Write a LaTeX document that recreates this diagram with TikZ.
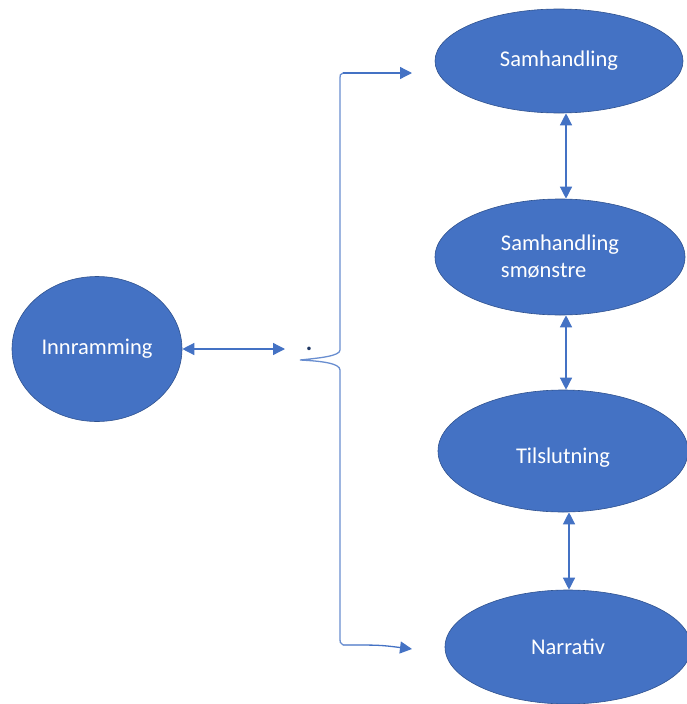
\documentclass[tikz,border=0pt]{standalone}
\usepackage{fontspec}
\setmainfont{Carlito}
\usetikzlibrary{shapes.geometric,arrows.meta}
\definecolor{ofill}{HTML}{4472C4}
\definecolor{oborder}{HTML}{2F528F}
\definecolor{dotc}{HTML}{203864}
\tikzset{
  oval/.style={ellipse, fill=ofill, draw=oborder, line width=0.6pt, inner sep=0pt,
    text=white, font=\fontsize{22.5}{27}\selectfont},
  conn/.style={draw=ofill, line width=1.3pt, -{Triangle[length=12pt,width=12pt]}},
  dconn/.style={draw=ofill, line width=1.3pt, {Triangle[length=12pt,width=12pt]}-{Triangle[length=12pt,width=12pt]}},
  bracel/.style={draw=ofill!80, line width=1.3pt}
}
\begin{document}
\begin{tikzpicture}[x=1pt,y=-1pt]
\useasboundingbox (0,0) rectangle (686,704);
\node[oval, minimum width=170pt, minimum height=145pt] (inn) at (97,349) {Innramming};
\node[oval, minimum width=248pt, minimum height=104pt] (s1) at (559,61) {Samhandling};
\node[oval, minimum width=250pt, minimum height=116pt, align=left] (s2) at (560,257) {Samhandling\\smønstre};
\node[oval, minimum width=250pt, minimum height=122pt] (t) at (563,451) {\raisebox{-5pt}[\height][0pt]{Tilslutning}};
\node[oval, minimum width=246pt, minimum height=114pt] (n) at (568,647) {Narrativ};
\node[text=dotc, font=\fontsize{24}{24}\selectfont\bfseries, inner sep=0pt] (dot) at (309,349) {.};
\coordinate (mid) at (285,349);
\coordinate (btop) at (343,73);
\coordinate (bbot) at (343,645);
\coordinate (atop) at (412,73);
\coordinate (abot) at (412,649);
\draw[dconn] (inn.east) -- (mid);
% brace
\draw[bracel] (btop) .. controls (340,74) .. (340,82) -- (340,350)
  .. controls (340,356) and (320,358) .. (300,360)
  .. controls (320,361) and (340,363) .. (340,370) -- (340,636)
  .. controls (340,643) .. (bbot);
\draw[conn] (btop) -- (atop);
\draw[conn] (bbot) .. controls (380,645) .. (abot);
\draw[dconn] ([xshift=7pt]s1.south) -- ([xshift=6pt]s2.north);
\draw[dconn] ([xshift=6pt]s2.south) -- ([xshift=3pt]t.north);
\draw[dconn] ([xshift=6pt]t.south) -- ([xshift=1pt]n.north);
\end{tikzpicture}
\end{document}
